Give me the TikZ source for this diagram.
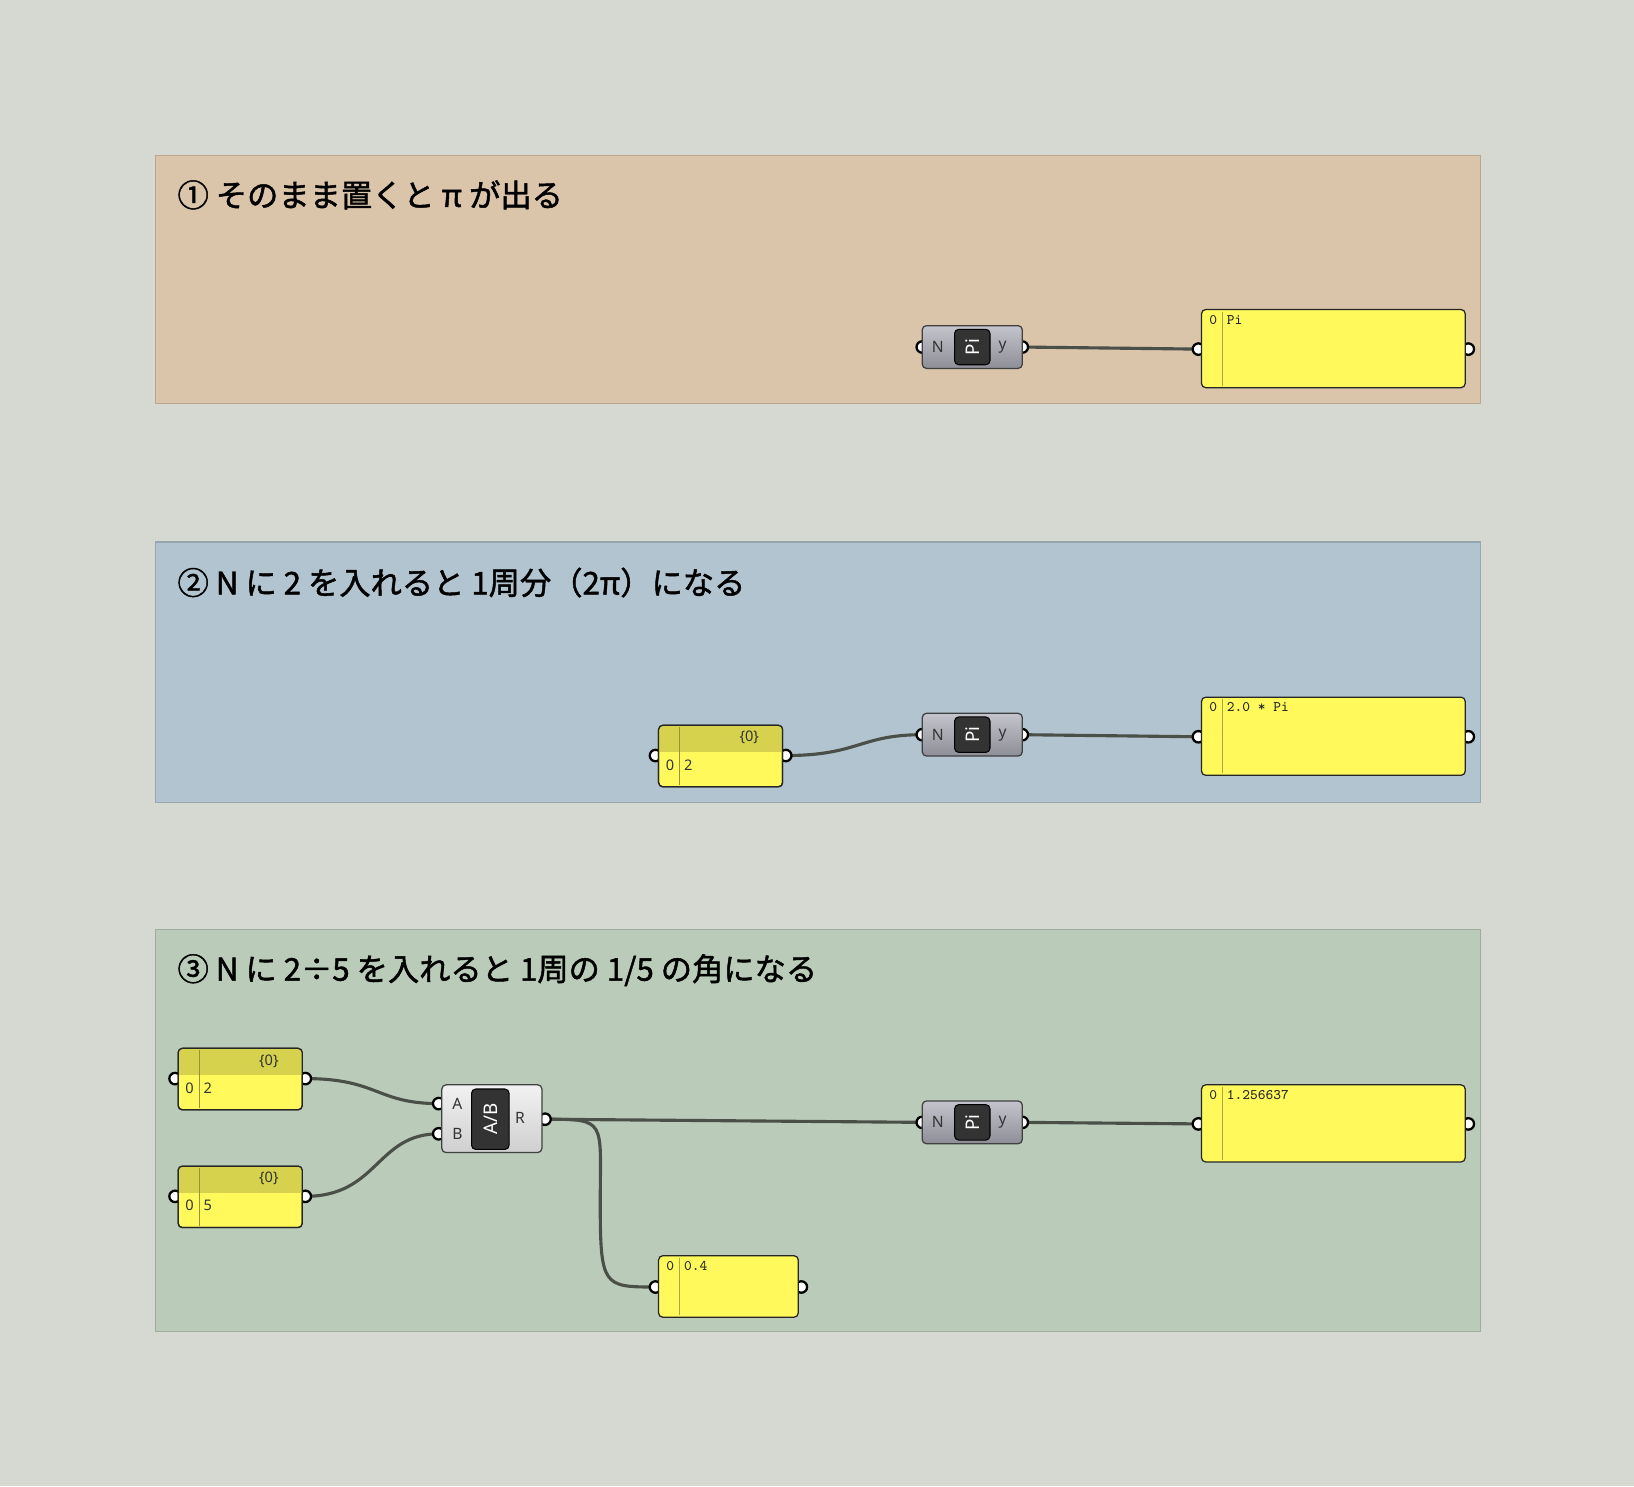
\documentclass[tikz,border=0pt]{standalone}
\usepackage{fontspec}
\setmainfont{Noto Sans CJK JP}
\newfontfamily\titlefont{Noto Sans CJK JP}[FakeBold=1.5]
\newfontfamily\labfont{Noto Sans}
\newfontfamily\monofont{Latin Modern Mono}
\usetikzlibrary{calc}
\pgfdeclarelayer{back}
\pgfdeclarelayer{wires}
\pgfsetlayers{back,wires,main}
\definecolor{bg}{HTML}{D6D8D2}
\definecolor{g1}{HTML}{DAC4AA}
\definecolor{g2}{HTML}{B1C4CF}
\definecolor{g3}{HTML}{BACCB9}
\definecolor{pan}{HTML}{FFF95C}
\definecolor{panh}{HTML}{D6D24E}
\definecolor{wire}{HTML}{4A4F48}
\definecolor{pitop}{HTML}{C4C4CC}
\definecolor{pibot}{HTML}{8E8E98}
\definecolor{dvtop}{HTML}{F2F2F2}
\definecolor{dvbot}{HTML}{CFCFCF}
\tikzset{
 grp/.style={draw=#1!85!black, line width=0.6pt},
 title/.style={anchor=west, font=\titlefont\fontsize{15}{15}\selectfont, inner sep=0},
 comp/.style 2 args={draw=black!75, rounded corners=2pt, line width=0.6pt, inner sep=0, top color=#1, bottom color=#2},
 panel/.style={draw=black!85, rounded corners=2pt, line width=0.6pt, fill=pan, inner sep=0},
 port/.style={circle, draw=black, line width=1.1pt, fill=white, inner sep=0, minimum size=5.5pt},
 wirest/.style={draw=wire, line width=1.5pt},
 lab/.style={font=\labfont\fontsize{7.5}{7.5}\selectfont, text=black!80, inner sep=0},
 mono/.style={font=\monofont\fontsize{7}{7}\selectfont, anchor=north west, inner sep=0, text=black!85},
 icon/.style={fill=black!80, draw=black, rounded corners=2pt, line width=0.5pt, inner sep=0, text=white, font=\labfont\bfseries\fontsize{9}{9}\selectfont},
}
\newcommand\myPi[3]{% name, cx, cy
 \node[port] (#1in) at (#2-48,#3) {};
 \node[port] (#1out) at (#2+48,#3) {};
 \node[comp={pitop}{pibot}, minimum width=48pt, minimum height=20.5pt] (#1) at (#2,#3) {};
 \node[icon, minimum width=17pt, minimum height=17pt] (#1ic) at (#2,#3) {\rotatebox{90}{Pi}};
 \node[lab] at (#2-33,#3) {N};
 \node[lab] at (#2+29,#3) {y};
}
\newcommand\myPanel[6]{% name, x1,y1,x2,y2, text
 \node[port] (#1in) at (#2-3,{(#3+#5)/2+0.5}) {};
 \node[port] (#1out) at (#4+3,{(#3+#5)/2+0.5}) {};
 \filldraw[panel] (#2,#3) rectangle (#4,#5);
 \node[coordinate] (#1) at ({(#2+#4)/2},{(#3+#5)/2}) {};
 \draw[panh!80!black, line width=0.4pt] (#2+20,#3+2) -- (#2+20,#5-2);
 \node[mono] at (#2+7,#3+5) {0};
 \node[mono] at (#2+24,#3+5) {#6};
}
\newcommand\mySlider[6]{% name, x1,y1,x2,y2, value
 \node[port] (#1in) at (#2-3,#3+29) {};
 \node[port] (#1out) at (#4+3,#3+29) {};
 \filldraw[panel] (#2,#3) rectangle (#4,#5);
 \begin{scope}
 \clip[rounded corners=2pt] (#2,#3) rectangle (#4,#5);
 \fill[panh] (#2,#3) rectangle (#4,#3+26);
 \end{scope}
 \draw[black!85, line width=0.6pt, rounded corners=2pt] (#2,#3) rectangle (#4,#5);
 \node[coordinate] (#1) at ({(#2+#4)/2},{(#3+#5)/2}) {};
 \draw[panh!70!black, line width=0.4pt] (#2+20,#3+2) -- (#2+20,#5-2);
 \node[lab, font=\labfont\fontsize{7}{7}\selectfont] at (#4-32,#3+12) {\{0\}};
 \node[lab, font=\labfont\fontsize{7}{7}\selectfont] at (#2+11,#3+38) {0};
 \node[lab, font=\labfont\fontsize{7}{7}\selectfont, anchor=west] at (#2+24,#3+38) {#6};
}
\begin{document}
\begin{tikzpicture}[x=0.5pt,y=-0.5pt]
\begin{pgfonlayer}{back}
\fill[bg] (0,0) rectangle (1568,1426);
\filldraw[fill=g1, grp=g1] (149,149) rectangle (1421,387);
\filldraw[fill=g2, grp=g2] (149,520) rectangle (1421,770);
\filldraw[fill=g3, grp=g3] (149,892) rectangle (1421,1278);
\end{pgfonlayer}
\useasboundingbox (0,0) rectangle (1568,1426);
\node[title] (t1) at (170,187) {① そのまま置くと π が出る};
\node[title] (t2) at (170,559) {② N に 2 を入れると 1周分（2π）になる};
\node[title] (t3) at (170,931) {③ N に 2÷5 を入れると 1周の 1/5 の角になる};
% group 1
\myPi{pa}{933}{333}
\myPanel{oa}{1153}{297}{1406}{372}{Pi}
% group 2
\mySlider{sb}{632}{696}{751}{755}{2}
\myPi{pb}{933}{705}
\myPanel{ob}{1153}{669}{1406}{744}{2.0 * Pi}
% group 3
\mySlider{sca}{171}{1006}{290}{1065}{2}
\mySlider{scb}{171}{1119}{290}{1178}{5}
\node[port] (dA) at (421,1059) {};
\node[port] (dB) at (421,1088) {};
\node[port] (dR) at (523,1074) {};
\node[comp={dvtop}{dvbot}, minimum width=48pt, minimum height=32.5pt] (div) at (472,1073.5) {};
\node[icon, minimum width=18pt, minimum height=29pt] (divic) at (470.5,1074) {\rotatebox{90}{A/B}};
\node[lab] at (439,1059) {A};
\node[lab] at (439,1088) {B};
\node[lab] at (499,1073) {R};
\myPi{pc}{933}{1077}
\myPanel{oc}{1153}{1041}{1406}{1115}{1.256637}
\myPanel{od}{632}{1205}{766}{1264}{0.4}
% wires
\begin{pgfonlayer}{wires}
\draw[wirest] (paout.center) -- (oain.center);
\draw[wirest] (sbout.center) .. controls +(70,0) and +(-60,0) .. (pbin.center);
\draw[wirest] (pbout.center) -- (obin.center);
\draw[wirest] (scaout.center) .. controls +(70,0) and +(-60,0) .. (dA.center);
\draw[wirest] (scbout.center) .. controls +(70,0) and +(-60,0) .. (dB.center);
\draw[wirest] (dR.center) -- (pcin.center);
\draw[wirest] (pcout.center) -- (ocin.center);
\draw[wirest] (dR.center) .. controls +(60,0) and +(0,-80) .. ($(dR)!0.5!(odin)$) .. controls +(0,80) and +(-50,0) .. (odin.center);
\end{pgfonlayer}
\end{tikzpicture}
\end{document}
